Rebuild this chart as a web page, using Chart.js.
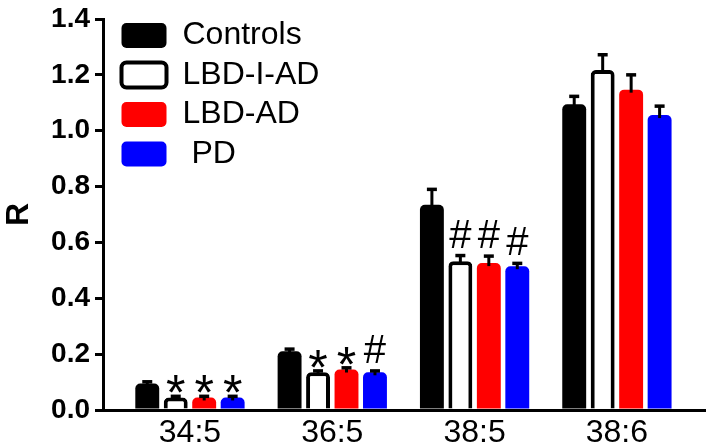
<!DOCTYPE html>
<html>
<head>
<meta charset="utf-8">
<script src="https://cdn.jsdelivr.net/npm/chart.js@4/dist/chart.umd.min.js"></script>
<style>
  html, body { margin: 0; padding: 0; background: #fff; }
  #wrap { width: 706px; height: 446px; }
</style>
</head>
<body>
<div id="wrap"><canvas id="c" width="706" height="446"></canvas></div>
<script>
const categories = ["34:5", "36:5", "38:5", "38:6"];
const seriesNames = ["Controls", "LBD-I-AD", "LBD-AD", " PD"];
const controls = [0.095, 0.21, 0.735, 1.095];
const lbdIAD   = [0.045, 0.135, 0.533, 1.217];
const lbdAD    = [0.045, 0.145, 0.526, 1.147];
const pd       = [0.045, 0.135, 0.515, 1.056];
const errControls = [0.006, 0.008, 0.055, 0.028];
const errLbdIAD   = [0.004, 0.005, 0.02, 0.055];
const errLbdAD    = [0.004, 0.006, 0.025, 0.053];
const errPd       = [0.004, 0.005, 0.01, 0.032];
const sigControls = ["", "", "", ""];
const sigLbdIAD   = ["*", "*", "#", ""];
const sigLbdAD    = ["*", "*", "#", ""];
const sigPd       = ["*", "#", "#", ""];
const yTicks = [0, 0.2, 0.4, 0.6, 0.8, 1.0, 1.2, 1.4];

const FONT = "'Liberation Sans', Arial, Helvetica, sans-serif";
const toPts = arr => arr.map((v, i) => ({ x: i, y: v }));

const errors = [errControls, errLbdIAD, errLbdAD, errPd];
const sigs = [sigControls, sigLbdIAD, sigLbdAD, sigPd];

const errorBarPlugin = {
  id: 'errorBars',
  afterLayout(chart) {
    if (chart.legend) {
      chart.legend.left += 11; chart.legend.right += 11;
      chart.legend.top += 12; chart.legend.bottom += 12;
    }
  },
  afterDatasetsDraw(chart) {
    const ctx = chart.ctx;
    const yScale = chart.scales.y;
    chart.data.datasets.forEach((ds, di) => {
      const meta = chart.getDatasetMeta(di);
      meta.data.forEach((bar, i) => {
        const v = ds.data[i].y;
        const e = errors[di][i];
        const yTop = yScale.getPixelForValue(v + e);
        const yBar = yScale.getPixelForValue(v);
        ctx.save();
        ctx.strokeStyle = '#000';
        ctx.lineWidth = 3;
        ctx.beginPath();
        ctx.moveTo(bar.x, yBar + 3);
        ctx.lineTo(bar.x, yTop);
        ctx.stroke();
        ctx.lineWidth = 3.5;
        ctx.beginPath();
        ctx.moveTo(bar.x - 5, yTop);
        ctx.lineTo(bar.x + 5, yTop);
        ctx.stroke();
        const s = sigs[di][i];
        if (s) {
          ctx.fillStyle = '#000';
          ctx.textAlign = 'center';
          ctx.textBaseline = 'alphabetic';
          if (s === '*') {
            ctx.font = '50px ' + FONT;
            ctx.fillText(s, bar.x, yTop + 14);
          } else {
            ctx.font = '40px ' + FONT;
            ctx.fillText(s, bar.x, yTop - 8);
          }
        }
        ctx.restore();
      });
    });
  }
};

new Chart(document.getElementById('c'), {
  type: 'bar',
  data: {
    datasets: [
      { label: seriesNames[0], data: toPts(controls), backgroundColor: '#000000', borderColor: '#000000', borderWidth: 0, borderRadius: 5, borderSkipped: 'start' },
      { label: seriesNames[1], data: toPts(lbdIAD), backgroundColor: '#ffffff', borderColor: '#000000', borderWidth: 4, borderRadius: 5, borderSkipped: 'start' },
      { label: seriesNames[2], data: toPts(lbdAD), backgroundColor: '#ff0000', borderColor: '#ff0000', borderWidth: 0, borderRadius: 5, borderSkipped: 'start' },
      { label: seriesNames[3], data: toPts(pd), backgroundColor: '#0000ff', borderColor: '#0000ff', borderWidth: 0, borderRadius: 5, borderSkipped: 'start' }
    ]
  },
  options: {
    responsive: false,
    animation: false,
    devicePixelRatio: 1,
    categoryPercentage: 0.8,
    barPercentage: 0.84,
    layout: { autoPadding: false, padding: { top: 11, left: 0, right: 0, bottom: 0 } },
    plugins: {
      tooltip: { enabled: false },
      legend: {
        position: 'chartArea',
        align: 'start',
        labels: {
          color: '#000',
          font: { family: FONT, size: 32 },
          boxWidth: 45,
          boxHeight: 25,
          padding: 7.5,
          useBorderRadius: true,
          borderRadius: 5
        }
      }
    },
    scales: {
      x: {
        type: 'linear',
        offset: false,
        min: -0.611,
        max: 3.626,
        afterFit(scale) { scale.height = 36; },
        grid: { display: false, drawTicks: false, offset: false },
        border: { display: true, color: '#000', width: 3 },
        ticks: {
          stepSize: 1,
          includeBounds: false,
          autoSkip: false,
          maxRotation: 0,
          padding: 4,
          color: '#000',
          font: { family: FONT, size: 32 },
          callback: v => (Number.isInteger(v) && categories[v] !== undefined) ? categories[v] : ''
        }
      },
      y: {
        min: 0,
        max: 1.4,
        afterFit(scale) { scale.width = 103; },
        afterBuildTicks(scale) { scale.ticks = yTicks.map(v => ({ value: v })); },
        grid: { drawOnChartArea: false, drawTicks: true, tickLength: 8, color: '#000', lineWidth: 3 },
        border: { display: true, color: '#000', width: 3 },
        title: { display: true, text: 'R', color: '#000', font: { family: FONT, size: 32, weight: 'bold', lineHeight: 1.2 }, padding: 0 },
        ticks: {
          padding: 5,
          color: '#000',
          font: { family: FONT, size: 28, weight: 'bold', lineHeight: 1 },
          callback: v => Number(v).toFixed(1)
        }
      }
    }
  },
  plugins: [errorBarPlugin]
});
</script>
</body>
</html>
